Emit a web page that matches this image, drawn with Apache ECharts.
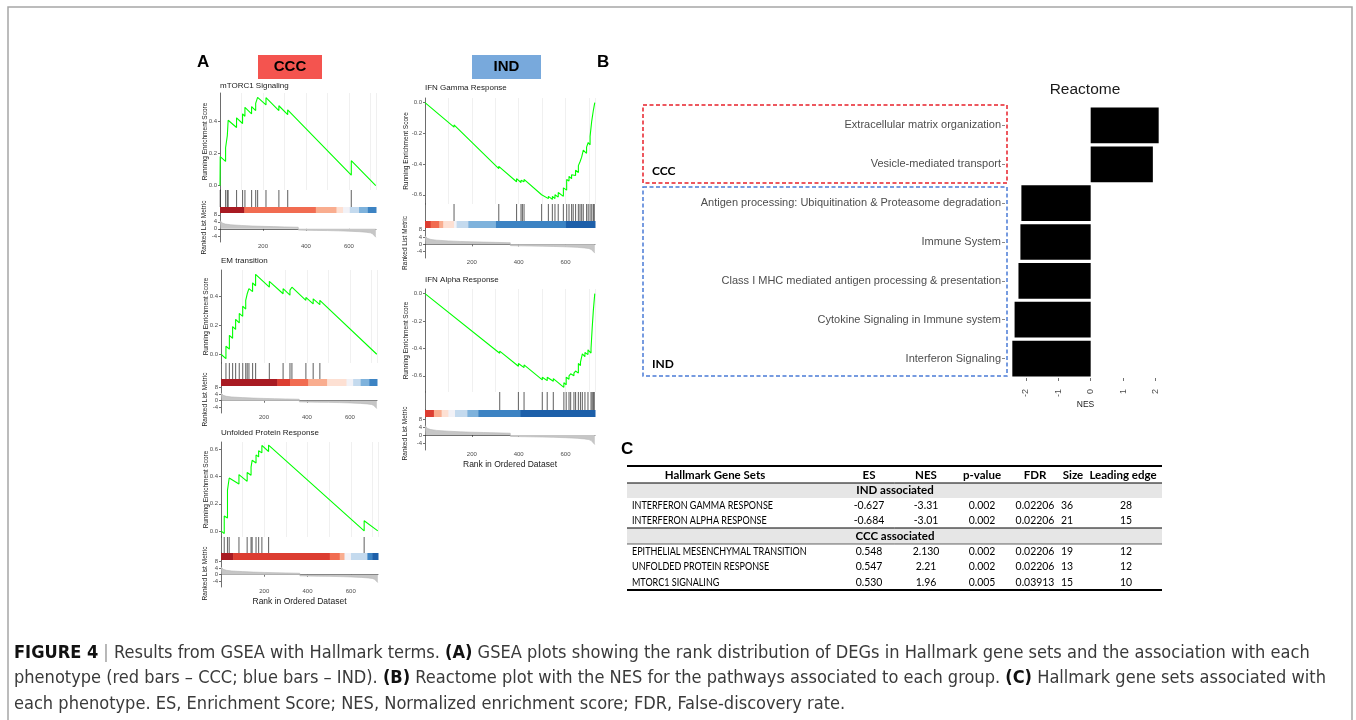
<!DOCTYPE html>
<html>
<head>
<meta charset="utf-8">
<script src="https://cdn.jsdelivr.net/npm/echarts@6/dist/echarts.min.js"></script>
<style>
  html, body { margin: 0; padding: 0; background: #fff; }
  #chart { width: 1356px; height: 720px; }
</style>
</head>
<body>
<div id="chart"></div>
<script>
// ---- data ----
const setNames = ['mTORC1 Signaling', 'EM transition', 'Unfolded Protein Response', 'IFN Gamma Response', 'IFN Alpha Response'];

// shared ranked list metric (same ranked list in every panel)
const rankX = [0, 3, 10, 25, 50, 100, 150, 200, 250, 300, 364, 365, 400, 450, 500, 550, 600, 650, 680, 700, 710, 718, 725];
const rankMetric = [4.8, 4.0, 3.3, 2.7, 2.3, 1.9, 1.6, 1.4, 1.25, 1.1, 0.9, -0.7, -0.8, -0.9, -1.0, -1.15, -1.35, -1.65, -1.95, -2.3, -2.8, -3.6, -4.8];

const mtorcES = [[0,0],[1,0.18],[26,0.15],[26,0.235],[34,0.225],[34,0.31],[38,0.305],[38,0.405],[77,0.36],[77,0.42],[105,0.385],[105,0.445],[116,0.43],[116,0.485],[147,0.445],[147,0.49],[166,0.465],[166,0.51],[175,0.5],[175,0.547],[214,0.5],[214,0.545],[274,0.465],[274,0.495],[315,0.44],[315,0.47],[611,0.065],[611,0.155],[725,0]];
const mtorcHits = [1, 26, 34, 38, 77, 105, 116, 147, 166, 175, 214, 274, 315, 611];
const mtorcBins = [[0,113,5],[113,446,3],[446,542,2],[542,573,1],[573,604,0],[604,647,-1],[647,688,-2],[688,726,-3]];

const emES = [[0,0],[23,-0.03],[23,0.055],[39,0.035],[39,0.13],[54,0.11],[54,0.19],[68,0.17],[68,0.24],[85,0.215],[85,0.28],[101,0.26],[101,0.33],[115,0.31],[115,0.37],[122,0.36],[122,0.415],[130,0.405],[130,0.45],[147,0.43],[147,0.49],[161,0.47],[161,0.548],[225,0.46],[225,0.5],[289,0.415],[289,0.45],[321,0.405],[321,0.44],[330,0.43],[330,0.46],[395,0.37],[395,0.39],[429,0.345],[429,0.38],[460,0.34],[460,0.37],[725,0]];
const emHits = [23, 39, 54, 68, 85, 101, 115, 122, 130, 147, 161, 225, 289, 321, 330, 395, 429, 460];
const emBins = [[0,262,5],[262,321,4],[321,406,3],[406,494,2],[494,584,1],[584,615,0],[615,650,-1],[650,690,-2],[690,726,-3]];

const uprES = [[0,0],[15,-0.02],[15,0.11],[30,0.095],[30,0.3],[38,0.29],[38,0.39],[83,0.345],[83,0.415],[121,0.365],[121,0.43],[139,0.41],[139,0.47],[144,0.465],[144,0.52],[162,0.5],[162,0.56],[174,0.545],[174,0.59],[189,0.575],[189,0.63],[220,0.585],[220,0.632],[662,0],[662,0.075],[725,0]];
const uprHits = [15, 30, 38, 83, 121, 139, 144, 162, 174, 189, 220, 662];
const uprBins = [[0,56,5],[56,503,4],[503,549,3],[549,571,2],[571,601,0],[601,677,-1],[677,700,-3],[700,726,-4]];

const gammaES = [[0,0],[124,-0.16],[124,-0.145],[315,-0.43],[315,-0.415],[391,-0.515],[391,-0.495],[410,-0.52],[410,-0.505],[416,-0.515],[416,-0.505],[423,-0.515],[423,-0.5],[498,-0.6],[498,-0.59],[527,-0.625],[527,-0.61],[544,-0.63],[544,-0.61],[555,-0.625],[555,-0.6],[569,-0.615],[569,-0.585],[591,-0.61],[591,-0.555],[605,-0.57],[605,-0.5],[615,-0.51],[615,-0.48],[626,-0.495],[626,-0.47],[633,-0.48],[633,-0.465],[643,-0.475],[643,-0.44],[655,-0.455],[655,-0.41],[662,-0.42],[662,-0.385],[669,-0.395],[669,-0.355],[676,-0.365],[676,-0.31],[690,-0.33],[690,-0.29],[697,-0.3],[697,-0.26],[705,-0.275],[705,-0.22],[712,-0.23],[712,-0.12],[719,-0.13],[719,-0.05],[725,0]];
const gammaHits = [124, 315, 391, 410, 416, 423, 498, 527, 544, 555, 569, 591, 605, 615, 626, 633, 643, 655, 662, 669, 676, 690, 697, 705, 712, 719, 723];
const gammaBins = [[0,24,4],[24,61,3],[61,78,2],[78,124,1],[124,135,0],[135,185,-1],[185,303,-2],[303,602,-3],[602,726,-4]];

const alphaES = [[0,0],[319,-0.435],[319,-0.42],[399,-0.53],[399,-0.51],[423,-0.54],[423,-0.52],[501,-0.63],[501,-0.61],[522,-0.635],[522,-0.61],[548,-0.64],[548,-0.62],[593,-0.684],[593,-0.65],[603,-0.665],[603,-0.61],[615,-0.625],[615,-0.6],[622,-0.61],[622,-0.585],[636,-0.6],[636,-0.58],[643,-0.59],[643,-0.565],[655,-0.58],[655,-0.51],[664,-0.525],[664,-0.5],[672,-0.51],[672,-0.44],[683,-0.46],[683,-0.43],[696,-0.445],[696,-0.41],[709,-0.434],[709,-0.4],[714,-0.41],[714,-0.25],[719,-0.26],[719,-0.12],[725,0]];
const alphaHits = [319, 399, 423, 501, 522, 548, 593, 603, 615, 622, 636, 643, 655, 664, 672, 683, 696, 709, 714, 719, 723];
const alphaBins = [[0,38,4],[38,71,2],[71,100,1],[100,128,0],[128,181,-1],[181,228,-2],[228,408,-3],[408,726,-4]];

const rankTicks = [200, 400, 600];
const metricTicks = [-4, 0, 4, 8];

const reactomeTerms = ['Extracellular matrix organization', 'Vesicle-mediated transport', 'Antigen processing: Ubiquitination & Proteasome degradation', 'Immune System', 'Class I MHC mediated antigen processing & presentation', 'Cytokine Signaling in Immune system', 'Interferon Signaling'];
const reactomeNES = [2.10, 1.92, -2.14, -2.17, -2.23, -2.35, -2.42];
const nesTicks = [-2, -1, 0, 1, 2];

const tableHeader = ['Hallmark Gene Sets', 'ES', 'NES', 'p-value', 'FDR', 'Size', 'Leading edge'];
const indRows = [
  ['INTERFERON GAMMA RESPONSE', '-0.627', '-3.31', '0.002', '0.02206', '36', '28'],
  ['INTERFERON ALPHA RESPONSE', '-0.684', '-3.01', '0.002', '0.02206', '21', '15']
];
const cccRows = [
  ['EPITHELIAL MESENCHYMAL TRANSITION', '0.548', '2.130', '0.002', '0.02206', '19', '12'],
  ['UNFOLDED PROTEIN RESPONSE', '0.547', '2.21', '0.002', '0.02206', '13', '12'],
  ['MTORC1 SIGNALING', '0.530', '1.96', '0.005', '0.03913', '15', '10']
];

const captionLines = [
  '{b|FIGURE 4} {s||} Results from GSEA with Hallmark terms. {b|(A)} GSEA plots showing the rank distribution of DEGs in Hallmark gene sets and the association with each',
  'phenotype (red bars \u2013 CCC; blue bars \u2013 IND). {b|(B)} Reactome plot with the NES for the pathways associated to each group. {b|(C)} Hallmark gene sets associated with',
  'each phenotype. ES, Enrichment Score; NES, Normalized enrichment score; FDR, False-discovery rate.'
];

// ---- layout / styling ----
const FONT = '"Liberation Sans", Arial, Helvetica, sans-serif';
const NARROW = '"DejaVu Sans Condensed", "Liberation Sans", sans-serif';
const TABLE = 'Lato, "Open Sans", sans-serif';
const binColors = { '5': '#a81a22', '4': '#dc3d31', '3': '#f16c51', '2': '#f9ad8f', '1': '#fde0d3', '0': '#f2f2f7', '-1': '#c4daee', '-2': '#7eb2dc', '-3': '#3c83c3', '-4': '#1d5fa9' };
const AXIS = { color: '#333', width: 0.7 };

const panels = [
  { es: mtorcES, hits: mtorcHits, bins: mtorcBins, yMin: -0.027, yMax: 0.574, yTicks: [0, 0.2, 0.4], left: 220, right: 376, title: 86, esTop: 93, esBot: 190, barTop: 207, barBot: 213, rankBot: 242, gap: 11 },
  { es: emES, hits: emHits, bins: emBins, yMin: -0.06, yMax: 0.578, yTicks: [0, 0.2, 0.4], left: 221, right: 377, title: 261, esTop: 270, esBot: 363, barTop: 379, barBot: 386, rankBot: 413, gap: 11 },
  { es: uprES, hits: uprHits, bins: uprBins, yMin: -0.045, yMax: 0.655, yTicks: [0, 0.2, 0.4, 0.6], left: 221, right: 378, title: 433, esTop: 442, esBot: 537, barTop: 553, barBot: 560, rankBot: 587, gap: 11, xName: true },
  { es: gammaES, hits: gammaHits, bins: gammaBins, yMin: -0.66, yMax: 0.03, yTicks: [0, -0.2, -0.4, -0.6], left: 425, right: 595, title: 88, esTop: 98, esBot: 204, barTop: 221, barBot: 228, rankBot: 258, gap: 15 },
  { es: alphaES, hits: alphaHits, bins: alphaBins, yMin: -0.718, yMax: 0.034, yTicks: [0, -0.2, -0.4, -0.6], left: 425, right: 595, title: 280, esTop: 289, esBot: 392, barTop: 410, barBot: 417, rankBot: 450, gap: 15, xName: true }
];

const grids = [], xAxes = [], yAxes = [], series = [], graphics = [];

function txt(x, y, text, size, o) {
  o = o || {};
  return {
    type: 'text', x: x, y: y, silent: true, z: 10, scaleX: o.scaleX || 1,
    style: {
      text: text, font: (o.weight || 'normal') + ' ' + size + 'px ' + (o.family || FONT),
      fill: o.color || '#000', textAlign: o.align || 'left', align: o.align || 'left',
      textVerticalAlign: 'middle', verticalAlign: 'middle', rich: o.rich
    }
  };
}

panels.forEach(function (p, i) {
  const w = p.right - p.left;
  const g = grids.length;
  grids.push({ left: p.left, top: p.esTop, width: w, height: p.esBot - p.esTop });
  grids.push({ left: p.left, top: p.esBot, width: w, height: p.barTop - p.esBot });
  grids.push({ left: p.left, top: p.barTop, width: w, height: p.barBot - p.barTop });
  grids.push({ left: p.left, top: p.barBot, width: w, height: p.rankBot - p.barBot });

  // enrichment score panel
  xAxes.push({ gridIndex: g, type: 'value', min: 0, max: 726, interval: 100,
    axisLine: { show: false }, axisTick: { show: false }, axisLabel: { show: false },
    splitLine: { show: true, lineStyle: { color: '#ececec', width: 0.8 } } });
  yAxes.push({ gridIndex: g, type: 'value', min: p.yMin, max: p.yMax,
    axisLine: { show: true, lineStyle: AXIS },
    axisTick: { show: true, length: 2, customValues: p.yTicks, lineStyle: AXIS },
    axisLabel: { customValues: p.yTicks, fontSize: 6, fontFamily: FONT, color: '#4d4d4d', margin: 3,
      formatter: function (v) { return v.toFixed(1); } },
    splitLine: { show: false },
    name: 'Running Enrichment Score', nameLocation: 'middle', nameGap: p.gap, nameMoveOverlap: false,
    nameTextStyle: { fontSize: 6.5, fontFamily: FONT, color: '#1a1a1a' } });
  series.push({ type: 'line', xAxisIndex: g, yAxisIndex: g, data: p.es, symbol: 'none',
    lineStyle: { color: '#00ff00', width: 1.1 }, itemStyle: { color: '#00ff00' } });

  // hit marks
  xAxes.push({ gridIndex: g + 1, type: 'value', min: 0, max: 726, show: false });
  yAxes.push({ gridIndex: g + 1, type: 'value', min: 0, max: 1,
    axisLine: { show: true, lineStyle: AXIS }, axisTick: { show: false }, axisLabel: { show: false }, splitLine: { show: false } });
  series.push({ type: 'custom', xAxisIndex: g + 1, yAxisIndex: g + 1,
    data: p.hits.map(function (h) { return [h, 1]; }),
    renderItem: function (params, api) {
      const a = api.coord([api.value(0), 0]);
      const b = api.coord([api.value(0), 1]);
      return { type: 'line', shape: { x1: a[0], y1: a[1], x2: b[0], y2: b[1] },
        style: { stroke: 'rgba(20,20,20,0.62)', lineWidth: 1.1 } };
    } });

  // color bar
  xAxes.push({ gridIndex: g + 2, type: 'value', min: 0, max: 726, show: false });
  yAxes.push({ gridIndex: g + 2, type: 'value', min: 0, max: 1,
    axisLine: { show: true, lineStyle: AXIS }, axisTick: { show: false }, axisLabel: { show: false }, splitLine: { show: false } });
  series.push({ type: 'custom', xAxisIndex: g + 2, yAxisIndex: g + 2, z: 1,
    data: p.bins, encode: { x: [0, 1] },
    renderItem: function (params, api) {
      const a = api.coord([api.value(0), 1]);
      const b = api.coord([api.value(1), 0]);
      return { type: 'rect', shape: { x: a[0], y: a[1], width: b[0] - a[0] + 0.5, height: b[1] - a[1] },
        style: { fill: binColors[String(api.value(2))] } };
    } });

  // ranked list metric
  xAxes.push({ gridIndex: g + 3, type: 'value', min: 0, max: 726,
    axisLine: { show: true, lineStyle: AXIS },
    axisTick: { show: true, length: 2, customValues: rankTicks, lineStyle: AXIS },
    axisLabel: { customValues: rankTicks, fontSize: 6, fontFamily: FONT, color: '#4d4d4d', margin: 1 },
    splitLine: { show: false },
    name: p.xName ? 'Rank in Ordered Dataset' : '', nameLocation: 'middle', nameGap: 10, nameMoveOverlap: false,
    nameTextStyle: { fontSize: 8.5, fontFamily: FONT, color: '#1a1a1a' } });
  yAxes.push({ gridIndex: g + 3, type: 'value', min: -7.5, max: 9,
    axisLine: { show: true, lineStyle: AXIS },
    axisTick: { show: true, length: 2, customValues: metricTicks, lineStyle: AXIS },
    axisLabel: { customValues: metricTicks, fontSize: 6, fontFamily: FONT, color: '#4d4d4d', margin: 3 },
    splitLine: { show: false },
    name: 'Ranked List Metric', nameLocation: 'middle', nameGap: p.gap + 1, nameMoveOverlap: false,
    nameTextStyle: { fontSize: 6.5, fontFamily: FONT, color: '#1a1a1a' } });
  series.push({ type: 'line', xAxisIndex: g + 3, yAxisIndex: g + 3, symbol: 'none',
    data: rankX.map(function (x, k) { return [x, rankMetric[k]]; }),
    lineStyle: { color: '#b5b5b5', width: 0.6 },
    areaStyle: { color: '#c6c6c6', opacity: 1, origin: 0 } });

  graphics.push(txt(p.left, p.title, setNames[i], 8, { color: '#1a1a1a' }));
});

// Reactome bar chart (panel B)
const rg = grids.length;
grids.push({ left: 1005, top: 106, width: 161, height: 272 });
xAxes.push({ gridIndex: rg, type: 'value', min: -2.646, max: 2.326,
  axisLine: { show: false, onZero: false },
  axisTick: { show: true, length: 3, customValues: nesTicks, lineStyle: { color: '#333', width: 0.7 } },
  axisLabel: { customValues: nesTicks, rotate: 90, fontSize: 9, fontFamily: FONT, color: '#4d4d4d', margin: 11 },
  splitLine: { show: false },
  name: 'NES', nameLocation: 'middle', nameGap: 22, nameMoveOverlap: false,
  nameTextStyle: { fontSize: 8.5, fontFamily: FONT, color: '#1a1a1a' } });
yAxes.push({ gridIndex: rg, type: 'category', inverse: true, data: reactomeTerms,
  axisLine: { show: false, onZero: false },
  axisTick: { show: true, alignWithLabel: true, length: 3, lineStyle: { color: '#555', width: 0.7 } },
  axisLabel: { fontSize: 11, fontFamily: FONT, color: '#4d4d4d', margin: 4 } });
series.push({ type: 'bar', xAxisIndex: rg, yAxisIndex: rg, data: reactomeNES, barCategoryGap: '8%',
  itemStyle: { color: '#000' } });

// figure frame
graphics.push({ type: 'rect', silent: true, z: 0, shape: { x: 8, y: 7, width: 1344, height: 740 },
  style: { fill: 'none', stroke: '#a6a6a6', lineWidth: 1.5 } });

// panel A headers
graphics.push(txt(197, 62, 'A', 17, { weight: 'bold' }));
graphics.push({ type: 'rect', silent: true, shape: { x: 258, y: 55, width: 64, height: 24 }, style: { fill: '#f4544f' } });
graphics.push(txt(290, 67, 'CCC', 15, { weight: 'bold', align: 'center' }));
graphics.push({ type: 'rect', silent: true, shape: { x: 472, y: 55, width: 69, height: 24 }, style: { fill: '#78a9dc' } });
graphics.push(txt(506.5, 67, 'IND', 15, { weight: 'bold', align: 'center' }));

// panel B annotations
graphics.push(txt(597, 62, 'B', 17, { weight: 'bold' }));
graphics.push(txt(1085, 90, 'Reactome', 15.5, { align: 'center', color: '#1a1a1a' }));
graphics.push({ type: 'rect', silent: true, shape: { x: 643, y: 105, width: 364, height: 78 },
  style: { fill: 'none', stroke: '#e8212a', lineWidth: 1.5, lineDash: [4, 2.5] } });
graphics.push({ type: 'rect', silent: true, shape: { x: 643, y: 187, width: 364, height: 189 },
  style: { fill: 'none', stroke: '#4a7bd6', lineWidth: 1.5, lineDash: [4, 2.5] } });
graphics.push(txt(652, 171, 'CCC', 12, { weight: 'bold', family: TABLE }));
graphics.push(txt(652, 364, 'IND', 12, { weight: 'bold', family: TABLE }));

// panel C table: upper-case names squeezed to the width of a narrow font
const ctx = document.createElement('canvas').getContext('2d');
ctx.font = '11px ' + TABLE;
const squeeze = Math.min(1, 141 / ctx.measureText(indRows[0][0]).width);
const TS = 11;

graphics.push(txt(621, 449, 'C', 17, { weight: 'bold' }));
const colX = [632, 869, 926, 982, 1035, 1067, 1126];
const headX = [715, 869, 926, 982, 1035, 1073, 1123];
function hline(y, wdt) {
  graphics.push({ type: 'line', silent: true, z: 5, shape: { x1: 627, y1: y, x2: 1162, y2: y }, style: { stroke: '#000', lineWidth: wdt } });
}
function band(y0, y1, label) {
  graphics.push({ type: 'rect', silent: true, shape: { x: 627, y: y0, width: 535, height: y1 - y0 }, style: { fill: '#e6e6e6' } });
  graphics.push(txt(895, (y0 + y1) / 2, label, 11.5, { weight: 'bold', family: TABLE, align: 'center' }));
}
function row(y, cells) {
  cells.forEach(function (c, k) {
    graphics.push(txt(colX[k], y, c, TS, { family: TABLE, align: k === 0 ? 'left' : 'center', scaleX: k === 0 ? squeeze : 0.95 }));
  });
}
band(483, 498, 'IND associated');
band(528, 544, 'CCC associated');
hline(466, 2);
hline(483, 1);
hline(528, 1);
hline(544, 0.6);
hline(590, 2);
tableHeader.forEach(function (h, k) {
  graphics.push(txt(headX[k], 475, h, 11.5, { weight: 'bold', family: TABLE, align: 'center' }));
});
indRows.forEach(function (r, k) { row(505 + k * 15.5, r); });
cccRows.forEach(function (r, k) { row(551 + k * 15.5, r); });

// caption: size fitted to the first line's width
ctx.font = '18px ' + NARROW;
const plain1 = captionLines[0].replace(/\{[a-z]\|([^}]*)\}/g, '$1');
const capSize = 18 * 1285 / ctx.measureText(plain1).width;
const capRich = {
  b: { fontWeight: 'bold', fontFamily: NARROW, fontSize: capSize, fill: '#111', color: '#111' },
  s: { fontFamily: NARROW, fontSize: capSize, fill: '#999', color: '#999' }
};
captionLines.forEach(function (l, k) {
  graphics.push(txt(14, 653 + k * 25.5, l, capSize, { family: NARROW, color: '#3a3a3a', rich: capRich }));
});

const chart = echarts.init(document.getElementById('chart'), null, { renderer: 'canvas', width: 1356, height: 720 });
chart.setOption({
  animation: false,
  backgroundColor: '#fff',
  grid: grids,
  xAxis: xAxes,
  yAxis: yAxes,
  series: series,
  graphic: graphics
});
</script>
</body>
</html>
